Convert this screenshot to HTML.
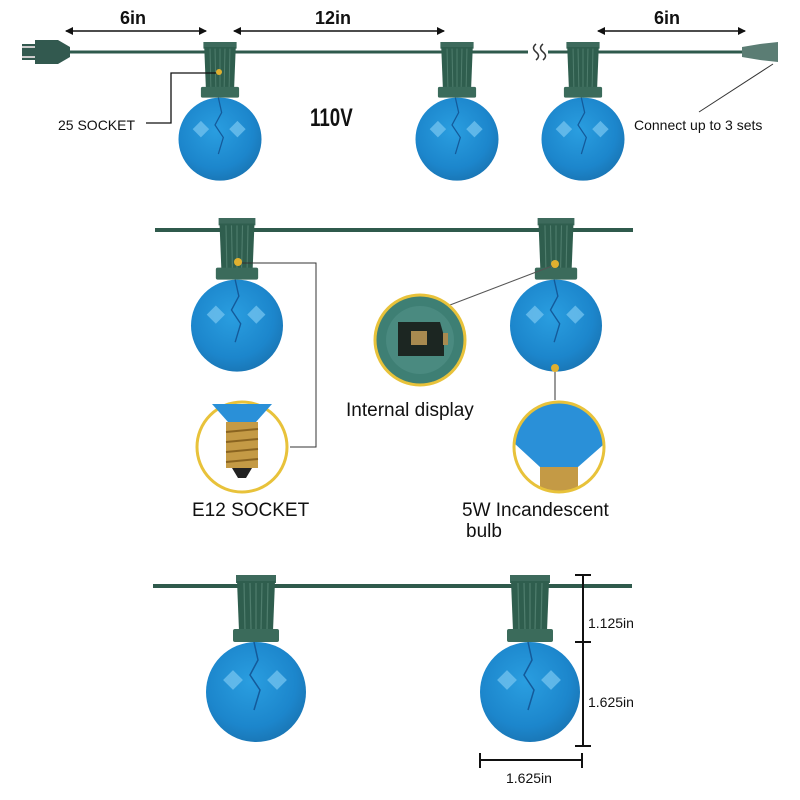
<!DOCTYPE html>
<html><head><meta charset="utf-8"><style>
html,body{margin:0;padding:0;background:#fff;}
svg{display:block;}
text{font-family:"Liberation Sans",sans-serif;fill:#111;}
</style></head><body>
<svg width="800" height="800" viewBox="0 0 800 800" xmlns="http://www.w3.org/2000/svg">
<defs>
  <radialGradient id="bg" cx="0.45" cy="0.4" r="0.6">
    <stop offset="0" stop-color="#2a9ee0"/>
    <stop offset="0.75" stop-color="#1c86cc"/>
    <stop offset="1" stop-color="#1a78b8"/>
  </radialGradient>
  <marker id="ar" markerWidth="8" markerHeight="8" refX="7" refY="4" orient="auto-start-reverse" markerUnits="userSpaceOnUse">
    <path d="M0,0 L8,4 L0,8 Z" fill="#111"/>
  </marker>
  <g id="bulb">
    <circle cx="0" cy="117" r="50" fill="url(#bg)"/>
    <path d="M-2,67 L2,85 L-6,100 L4,115 L-2,135" stroke="#145a9a" stroke-width="1.5" fill="none"/>
    <rect x="-30" y="98" width="14" height="14" fill="#6fc0ee" transform="rotate(45 -23 105)" opacity="0.8"/>
    <rect x="14" y="98" width="14" height="14" fill="#6fc0ee" transform="rotate(45 21 105)" opacity="0.8"/>
    <rect x="-20" y="0" width="40" height="8" fill="#3d6a5c"/>
    <path d="M-19,6 L19,6 L17,56 L-17,56 Z" fill="#2f5e4e"/>
    <g stroke="#4f7d6d" stroke-width="1.2">
      <line x1="-12" y1="8" x2="-11" y2="55"/><line x1="-6" y1="8" x2="-5" y2="55"/>
      <line x1="0" y1="8" x2="0" y2="55"/><line x1="6" y1="8" x2="5" y2="55"/>
      <line x1="12" y1="8" x2="11" y2="55"/>
    </g>
    <rect x="-23" y="54" width="46" height="13" rx="2" fill="#3b6b5b"/>
  </g>
</defs>

<!-- TOP ROW -->
<line x1="55" y1="52" x2="748" y2="52" stroke="#2f5a4c" stroke-width="3"/>
<path d="M22,44 L35,44 L35,40 L58,40 L70,47 L70,57 L58,64 L35,64 L35,60 L22,60 Z" fill="#32594f"/>
<line x1="22" y1="47" x2="35" y2="47" stroke="#ccc" stroke-width="2"/>
<line x1="22" y1="57" x2="35" y2="57" stroke="#ccc" stroke-width="2"/>
<path d="M742,47 L760,44 L778,42 L778,62 L760,60 L742,57 Z" fill="#5b7d74"/>
<rect x="528" y="44" width="20" height="16" fill="#fff"/>
<path d="M536,44 q-5,4 0,8 q5,4 0,8 M543,44 q-5,4 0,8 q5,4 0,8" stroke="#333" stroke-width="1.5" fill="none"/>
<use href="#bulb" transform="translate(220,42) scale(0.83)"/>
<use href="#bulb" transform="translate(457,42) scale(0.83)"/>
<use href="#bulb" transform="translate(583,42) scale(0.83)"/>
<circle cx="219" cy="72" r="3" fill="#e0b030"/>
<polyline points="146,123 171,123 171,73 216,73" stroke="#111" stroke-width="1.3" fill="none"/>
<text x="58" y="130" font-size="14">25 SOCKET</text>
<text x="310" y="126" font-size="25" font-weight="bold" transform="translate(310 0) scale(0.75 1) translate(-310 0)">110V</text>
<line x1="66" y1="31" x2="206" y2="31" stroke="#111" stroke-width="1.5" marker-start="url(#ar)" marker-end="url(#ar)"/>
<line x1="234" y1="31" x2="444" y2="31" stroke="#111" stroke-width="1.5" marker-start="url(#ar)" marker-end="url(#ar)"/>
<line x1="598" y1="31" x2="745" y2="31" stroke="#111" stroke-width="1.5" marker-start="url(#ar)" marker-end="url(#ar)"/>
<text x="120" y="24" font-size="18" font-weight="bold">6in</text>
<text x="315" y="24" font-size="18" font-weight="bold">12in</text>
<text x="654" y="24" font-size="18" font-weight="bold">6in</text>
<line x1="699" y1="112" x2="773" y2="64" stroke="#333" stroke-width="1"/>
<text x="634" y="130" font-size="14">Connect up to 3 sets</text>

<!-- MIDDLE ROW -->
<line x1="155" y1="230" x2="633" y2="230" stroke="#2f5a4c" stroke-width="4"/>
<use href="#bulb" transform="translate(237,218) scale(0.92)"/>
<use href="#bulb" transform="translate(556,218) scale(0.92)"/>
<circle cx="238" cy="262" r="4" fill="#e0b030"/>
<polyline points="242,263 316,263 316,447 290,447" stroke="#333" stroke-width="1" fill="none"/>
<circle cx="555" cy="264" r="4" fill="#e0b030"/>
<line x1="552" y1="266" x2="450" y2="305" stroke="#555" stroke-width="1"/>
<circle cx="555" cy="368" r="4" fill="#e0b030"/>
<line x1="555" y1="372" x2="555" y2="400" stroke="#333" stroke-width="1"/>
<!-- E12 inset -->
<g>
  <circle cx="242" cy="447" r="45" fill="#fff" stroke="#e8c23a" stroke-width="3"/>
  <path d="M212,404 L272,404 L256,422 L228,422 Z" fill="#2a90d8"/>
  <rect x="226" y="422" width="32" height="46" fill="#c49a45"/>
  <g stroke="#8a6420" stroke-width="2"><line x1="226" y1="432" x2="258" y2="429"/><line x1="226" y1="442" x2="258" y2="439"/><line x1="226" y1="452" x2="258" y2="449"/><line x1="226" y1="462" x2="258" y2="459"/></g>
  <path d="M232,468 L252,468 L246,478 L238,478 Z" fill="#222"/>
</g>
<!-- Internal inset -->
<g>
  <circle cx="420" cy="340" r="45" fill="#3e7f74" stroke="#e8c23a" stroke-width="3"/>
  <circle cx="420" cy="340" r="34" fill="#4a8a80"/>
  <path d="M398,322 L440,322 L444,336 L444,356 L398,356 Z" fill="#1c2622"/>
  <rect x="411" y="331" width="16" height="14" fill="#a88a50"/>
  <rect x="443" y="333" width="5" height="12" fill="#a88a50"/>
</g>
<!-- 5W inset -->
<g>
  <clipPath id="c5"><circle cx="559" cy="447" r="45"/></clipPath>
  <circle cx="559" cy="447" r="45" fill="#fff"/>
  <g clip-path="url(#c5)">
    <path d="M500,400 L620,400 L620,430 L578,467 L540,467 L500,430 Z" fill="#2a90d8"/>
    <rect x="540" y="467" width="38" height="25" fill="#c49a45"/>
  </g>
  <circle cx="559" cy="447" r="45" fill="none" stroke="#e8c23a" stroke-width="3"/>
</g>
<text x="346" y="416" font-size="19">Internal display</text>
<text x="192" y="516" font-size="19">E12 SOCKET</text>
<text x="462" y="516" font-size="19">5W Incandescent</text>
<text x="466" y="537" font-size="19">bulb</text>

<!-- BOTTOM ROW -->
<line x1="153" y1="586" x2="632" y2="586" stroke="#2f5a4c" stroke-width="4"/>
<use href="#bulb" transform="translate(256,575)"/>
<use href="#bulb" transform="translate(530,575)"/>
<g stroke="#111" stroke-width="2">
  <line x1="583" y1="575" x2="583" y2="746"/>
  <line x1="575" y1="575" x2="591" y2="575"/>
  <line x1="575" y1="642" x2="591" y2="642"/>
  <line x1="575" y1="746" x2="591" y2="746"/>
  <line x1="480" y1="760" x2="582" y2="760"/>
  <line x1="480" y1="753" x2="480" y2="768"/>
  <line x1="582" y1="753" x2="582" y2="768"/>
</g>
<text x="588" y="628" font-size="14">1.125in</text>
<text x="588" y="707" font-size="14">1.625in</text>
<text x="506" y="783" font-size="14">1.625in</text>
</svg>
</body></html>
